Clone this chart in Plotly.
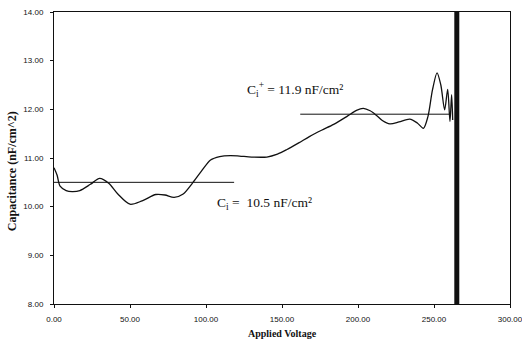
import plotly.graph_objects as go

# Measured capacitance vs applied voltage
voltage = [0, 2, 4, 8, 12, 17, 24, 30, 36, 42, 50, 58, 67, 73, 79, 85, 91, 97,
           103, 109, 116, 122, 130, 140, 147, 153, 161, 168, 176, 184, 193, 199,
           203.5, 208, 212, 216, 221, 227, 234, 239, 243, 246, 249, 252, 254.5,
           257, 259, 260.5, 261.6, 262.3]
capacitance = [10.80, 10.65, 10.42, 10.33, 10.31, 10.33, 10.46, 10.58, 10.48,
               10.26, 10.05, 10.12, 10.25, 10.24, 10.19, 10.26, 10.48, 10.73,
               10.96, 11.03, 11.05, 11.04, 11.02, 11.02, 11.08, 11.17, 11.31,
               11.44, 11.57, 11.69, 11.86, 11.98, 12.02, 11.97, 11.88, 11.77,
               11.70, 11.74, 11.80, 11.72, 11.61, 11.85, 12.40, 12.75, 12.50,
               11.99, 12.41, 11.75, 12.30, 11.78]

# Breakdown marker
breakdown_x = [265, 265]
breakdown_y = [8, 14]

# Fitted capacitance levels
ci_value = 10.5
ci_range = [0, 118.5]
ci_star_value = 11.9
ci_star_range = [162, 261]

x_ticks = [0, 50, 100, 150, 200, 250, 300]
x_tick_labels = ["0.00", "50.00", "100.00", "150.00", "200.00", "250.00", "300.00"]
y_ticks = [8, 9, 10, 11, 12, 13, 14]
y_tick_labels = ["8.00", "9.00", "10.00", "11.00", "12.00", "13.00", "14.00"]

ink = "#111111"
serif = "Liberation Serif"
sans = "Liberation Sans"

fig = go.Figure()

fig.add_trace(go.Scatter(
    x=voltage, y=capacitance, mode="lines",
    line=dict(color=ink, width=1.3, shape="spline", smoothing=0.8),
    hoverinfo="skip", showlegend=False))

fig.add_trace(go.Scatter(
    x=ci_range, y=[ci_value, ci_value], mode="lines",
    line=dict(color=ink, width=1), showlegend=False))

fig.add_trace(go.Scatter(
    x=ci_star_range, y=[ci_star_value, ci_star_value], mode="lines",
    line=dict(color=ink, width=1), showlegend=False))

fig.add_trace(go.Scatter(
    x=breakdown_x, y=breakdown_y, mode="lines",
    line=dict(color=ink, width=5), showlegend=False))

axis_common = dict(showgrid=False, zeroline=False, showline=True,
                   linecolor=ink, linewidth=1, mirror=True, automargin=False,
                   ticks="outside", ticklen=3, tickcolor=ink, tickwidth=1,
                   ticklabeloverflow="allow")

fig.update_layout(
    width=522, height=342,
    margin=dict(l=54, r=12, t=12, b=38, autoexpand=False),
    paper_bgcolor="white", plot_bgcolor="white",
    xaxis=dict(range=[0, 300], tickvals=x_ticks, ticktext=x_tick_labels,
               tickfont=dict(family=sans, size=8, color=ink),
               ticklabelstandoff=4, **axis_common),
    yaxis=dict(range=[8, 14], tickvals=y_ticks, ticktext=y_tick_labels,
               tickfont=dict(family=sans, size=8, color=ink),
               ticklabelstandoff=5, **axis_common),
    annotations=[
        dict(text="<b>Applied Voltage</b>", xref="paper", yref="paper",
             x=0.5, y=-0.1, xanchor="center", yanchor="middle",
             showarrow=False, font=dict(family=serif, size=10, color=ink)),
        dict(text="<b>Capacitance (nF/cm^2)</b>", xref="paper", yref="paper",
             x=-0.092, y=0.455, xanchor="center", yanchor="middle",
             textangle=-90, showarrow=False,
             font=dict(family=serif, size=12, color=ink)),
        dict(text="C<sub>i</sub><sup>+</sup> = 11.9 nF/cm²", xref="x", yref="y",
             x=125.5, y=12.41, xanchor="left", yanchor="middle",
             showarrow=False, font=dict(family=serif, size=13.5, color=ink)),
        dict(text="C<sub>i</sub> =  10.5 nF/cm²", xref="x", yref="y",
             x=106, y=10.06, xanchor="left", yanchor="middle",
             showarrow=False, font=dict(family=serif, size=13.5, color=ink)),
    ],
)

fig.write_html("out.html")
